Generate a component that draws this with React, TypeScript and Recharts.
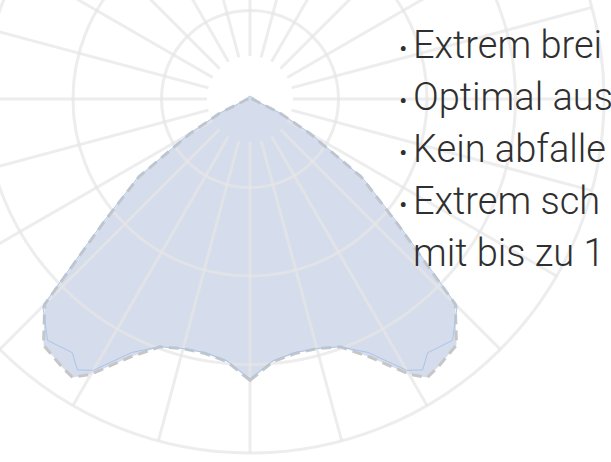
import React from 'react'
import { RadarChart, Radar, PolarGrid, PolarAngleAxis, PolarRadiusAxis } from 'recharts'

// gamma angles (deg), 0 = straight down, counter-clockwise
const angles = [
  0, 5, 10, 15, 20, 25, 30, 32.5, 35, 40, 45, 50, 55, 60, 65, 70, 75, 80, 85,
  90, 95, 100, 105, 110, 115, 120, 125, 130, 135, 140, 145, 150, 155, 160, 165, 170, 175,
  180, 185, 190, 195, 200, 205, 210, 215, 220, 225, 230, 235, 240, 245, 250, 255, 260, 265, 270, 275,
  280, 285, 290, 295, 300, 305, 310, 315, 320, 325, 327.5, 330, 335, 340, 345, 350, 355,
]

// C0-C180 plane (dashed grey), cd/klm
const planeC0 = [
  318, 298, 292, 292, 298, 322, 359, 373, 370, 363, 328, 214, 153, 78, 37, 9, 6, 4, 3,
  3, 3, 3, 3, 3, 3, 3, 3, 3, 3, 3, 3, 3, 3, 3, 3, 3, 3,
  3, 3, 3, 3, 3, 3, 3, 3, 3, 3, 3, 3, 3, 3, 3, 3, 3, 3, 3, 3,
  4, 6, 9, 37, 78, 153, 214, 328, 363, 370, 373, 359, 322, 298, 292, 292, 298,
]

// C90-C270 plane (thin blue), cd/klm
const planeC90 = [
  316, 297, 291, 292, 298, 316, 354, 363, 350, 356, 331, 217, 155, 80, 38, 10, 6, 4, 3,
  3, 3, 3, 3, 3, 3, 3, 3, 3, 3, 3, 3, 3, 3, 3, 3, 3, 3,
  3, 3, 3, 3, 3, 3, 3, 3, 3, 3, 3, 3, 3, 3, 3, 3, 3, 3, 3, 3,
  4, 6, 10, 38, 80, 155, 217, 331, 356, 350, 363, 354, 316, 298, 292, 291, 297,
]

const ringValues = [100, 200, 300, 400]
const gridAngles = [0, 15, 30, 45, 60, 75, 90, 105, 120, 135, 150, 165, 180, 195, 210, 225, 240, 255, 270, 285, 300, 315, 330, 345]

const bullets = ['Extrem brei', 'Optimal aus', 'Kein abfalle', 'Extrem sch']
const lastLine = 'mit bis zu 1'

const W = 611
const H = 462
const CX = 250
const CY = 99
const R_OUT = 354
const HOLE = 43
const R_MAX = 400

const data = angles.map((a, i) => ({ angle: a, c0: planeC0[i], c90: planeC90[i] }))

const layer: React.CSSProperties = { position: 'absolute', left: 0, top: 0 }

const common = {
  width: W,
  height: H,
  data,
  cx: CX,
  cy: CY,
  outerRadius: R_OUT,
  startAngle: -90,
  endAngle: 270,
  margin: { top: 0, right: 0, bottom: 0, left: 0 },
}

const Axes = () => (
  <>
    <PolarAngleAxis dataKey="angle" type="number" domain={[0, 360]} tick={false} tickLine={false} axisLine={false} />
    <PolarRadiusAxis domain={[0, R_MAX]} tick={false} axisLine={false} />
  </>
)

const lineY = [58, 110, 162, 214, 266]

export default function App() {
  return (
    <div style={{ position: 'absolute', left: 0, top: 0, width: W, height: H, overflow: 'hidden', background: '#fff' }}>
      <div style={layer}>
        <RadarChart {...common} innerRadius={0}>
          {Axes()}
          <Radar dataKey="c0" fill="#d5dcec" fillOpacity={1} stroke="none" dot={false} isAnimationActive={false} />
        </RadarChart>
      </div>
      <div style={layer}>
        <RadarChart {...common} innerRadius={HOLE}>
          {Axes()}
          <PolarGrid
            gridType="circle"
            polarAngles={gridAngles}
            polarRadius={ringValues.map(v => (v / R_MAX) * R_OUT)}
            stroke="#e6e6e6"
            strokeOpacity={0.7}
            strokeWidth={3}
          />
        </RadarChart>
      </div>
      <div style={layer}>
        <RadarChart {...common} innerRadius={0}>
          {Axes()}
          <Radar dataKey="c0" fill="none" fillOpacity={0} stroke="#c6c6c6" strokeWidth={3} strokeDasharray="10 6" dot={false} isAnimationActive={false} />
          <Radar dataKey="c90" fill="none" fillOpacity={0} stroke="#abc5e8" strokeWidth={1} dot={false} isAnimationActive={false} />
        </RadarChart>
      </div>
      <svg width={W} height={H} style={layer}>
        <g fontFamily="Roboto" fontWeight={300} fontSize={38} fill="#2f2f2f">
          {bullets.map((t, i) => (
            <React.Fragment key={t}>
              <text x={399} y={lineY[i]} fontSize={26}>•</text>
              <text x={413} y={lineY[i]}>{t}</text>
            </React.Fragment>
          ))}
          <text x={413} y={lineY[4]}>{lastLine}</text>
        </g>
      </svg>
    </div>
  )
}
